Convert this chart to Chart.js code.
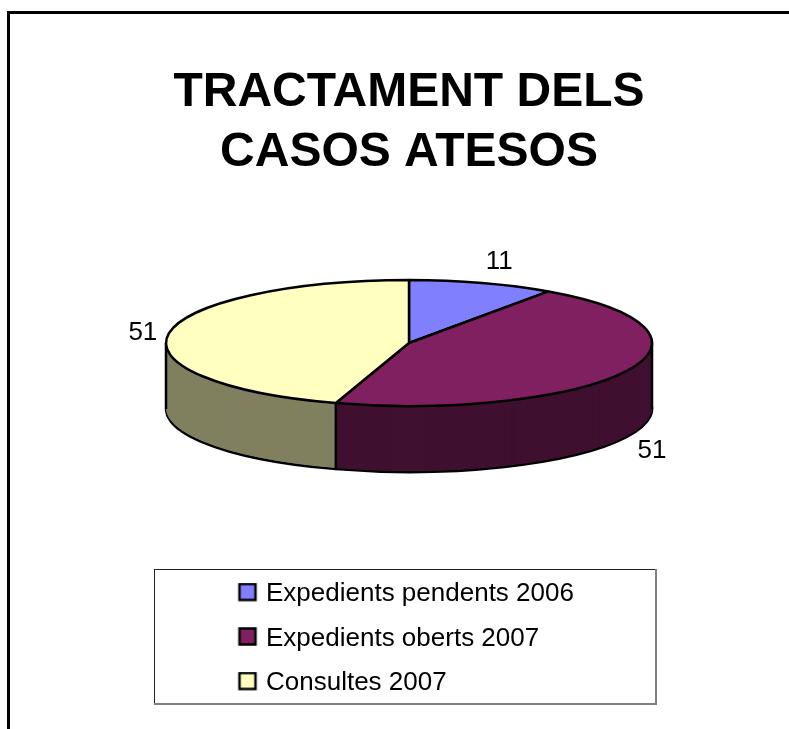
<!DOCTYPE html>
<html>
<head>
<meta charset="utf-8">
<style>
    html, body { margin: 0; background: #fff; }
    canvas { display: block; }
</style>
<script src="https://cdn.jsdelivr.net/npm/chart.js@4"></script>
</head>
<body>
<canvas id="chart" width="789" height="729"></canvas>
<script>
const categories = ['Expedients pendents 2006', 'Expedients oberts 2007', 'Consultes 2007'];
const values = [11, 51, 51];
const titleLines = ['TRACTAMENT DELS', 'CASOS ATESOS'];
const topColors = ['#8080ff', '#802060', '#ffffc0'];
const wallColors = ['#404080', '#401030', '#808060'];

const FONT = '"Liberation Sans", Arial, sans-serif';
const LEGEND_PAD = 18.5;
const LINE = 2.5;
// the flattened pie: centre, radii and wall height on the page
const PIE = { x: 409, y: 343, rx: 243, ry: 63, depth: 66 };
const labelOffsets = [[17, -21], [25, 14], [-26, -1]];

// small square used as legend marker
function swatch(color) {
    const c = document.createElement('canvas');
    c.width = c.height = 23;
    const g = c.getContext('2d');
    g.fillStyle = color;
    g.strokeStyle = '#000';
    g.lineWidth = LINE;
    g.fillRect(3, 1.5, 16, 16);
    g.strokeRect(3, 1.5, 16, 16);
    return c;
}

const pie3d = {
    id: 'pie3d',
    afterLayout(chart) {
        // the legend adds its padding on both axes when it draws
        const legend = chart.legend;
        legend.left = 243 - LEGEND_PAD;
        legend.right = 700;
        legend.top = 581 - LEGEND_PAD;
        legend.bottom = 729;
    },
    beforeDraw(chart) {
        const ctx = chart.ctx;
        ctx.save();
        ctx.fillStyle = '#000';
        ctx.fillRect(7, 11, 782, 3);
        ctx.fillRect(7, 11, 3, 718);
        // legend box
        ctx.fillStyle = '#808080';
        ctx.fillRect(154, 703, 503, 2);
        ctx.fillRect(655, 569, 2, 136);
        ctx.fillStyle = '#222';
        ctx.fillRect(154, 569, 501, 1);
        ctx.fillRect(154, 569, 1, 134);
        ctx.restore();
    },
    beforeDatasetsDraw(chart) {
        const ctx = chart.ctx;
        const arcs = chart.getDatasetMeta(0).data;
        const a0 = arcs[0];
        const sx = PIE.rx / a0.outerRadius, sy = PIE.ry / a0.outerRadius;
        const place = dy => ctx.setTransform(sx, 0, 0, sy, PIE.x - a0.x * sx, PIE.y + dy - a0.y * sy);

        // strokes ignore the squash so outlines keep an even width
        const stroke = ctx.stroke;
        ctx.save();
        ctx.stroke = function () {
            ctx.save();
            ctx.setTransform(1, 0, 0, 1, 0, 0);
            stroke.call(ctx);
            ctx.restore();
        };
        chart.$restoreStroke = () => { delete ctx.stroke; };

        // side wall: copies of the slices stacked downwards
        for (let d = PIE.depth; d >= 1; d--) {
            place(d);
            arcs.forEach((arc, i) => {
                const opts = arc.options;
                arc.options = Object.create(opts);
                arc.options.backgroundColor = wallColors[i];
                arc.options.borderColor = '#000';
                arc.options.borderWidth = d === PIE.depth ? LINE : 0;
                arc.draw(ctx);
                arc.options = opts;
            });
        }

        // vertical edges: rim ends and slice boundaries on the front half
        ctx.setTransform(1, 0, 0, 1, 0, 0);
        ctx.strokeStyle = '#000';
        ctx.lineWidth = LINE;
        const angles = [0, Math.PI];
        arcs.forEach(arc => { if (Math.sin(arc.startAngle) > 0) angles.push(arc.startAngle); });
        angles.forEach(a => {
            const x = PIE.x + PIE.rx * Math.cos(a);
            const y = PIE.y + PIE.ry * Math.sin(a);
            ctx.beginPath();
            ctx.moveTo(x, y);
            ctx.lineTo(x, y + PIE.depth);
            stroke.call(ctx);
        });
        place(0);
    },
    afterDatasetsDraw(chart) {
        const ctx = chart.ctx;
        chart.$restoreStroke();
        ctx.restore();

        ctx.save();
        ctx.fillStyle = '#000';
        ctx.font = '26px ' + FONT;
        ctx.textAlign = 'center';
        ctx.textBaseline = 'middle';
        chart.getDatasetMeta(0).data.forEach((arc, i) => {
            const mid = (arc.startAngle + arc.endAngle) / 2;
            const front = Math.sin(mid) > 0 ? PIE.depth : 0;
            const x = PIE.x + PIE.rx * Math.cos(mid) + labelOffsets[i][0];
            const y = PIE.y + PIE.ry * Math.sin(mid) + front + labelOffsets[i][1];
            ctx.fillText(String(values[i]), x, y);
        });
        ctx.restore();
    }
};

new Chart(document.getElementById('chart'), {
    type: 'pie',
    data: {
        labels: categories,
        datasets: [{
            data: values,
            backgroundColor: topColors,
            borderColor: '#000',
            borderWidth: LINE,
            clip: false
        }]
    },
    options: {
        responsive: false,
        animation: false,
        layout: { padding: { top: 33, left: 29 } },
        plugins: {
            title: {
                display: true,
                text: titleLines,
                color: '#000',
                font: { family: FONT, size: 48, weight: 'bold', lineHeight: 1.25 },
                padding: { top: 30, bottom: 10 }
            },
            legend: {
                position: 'right',
                align: 'start',
                labels: {
                    color: '#000',
                    font: { family: FONT, size: 26 },
                    padding: LEGEND_PAD,
                    usePointStyle: true,
                    pointStyleWidth: 10,
                    generateLabels: chart => Chart.overrides.pie.plugins.legend.labels.generateLabels(chart)
                        .map((item, i) => ({ ...item, pointStyle: swatch(topColors[i]), lineWidth: 0 }))
                }
            },
            tooltip: { enabled: false }
        }
    },
    plugins: [pie3d]
});
</script>
</body>
</html>
